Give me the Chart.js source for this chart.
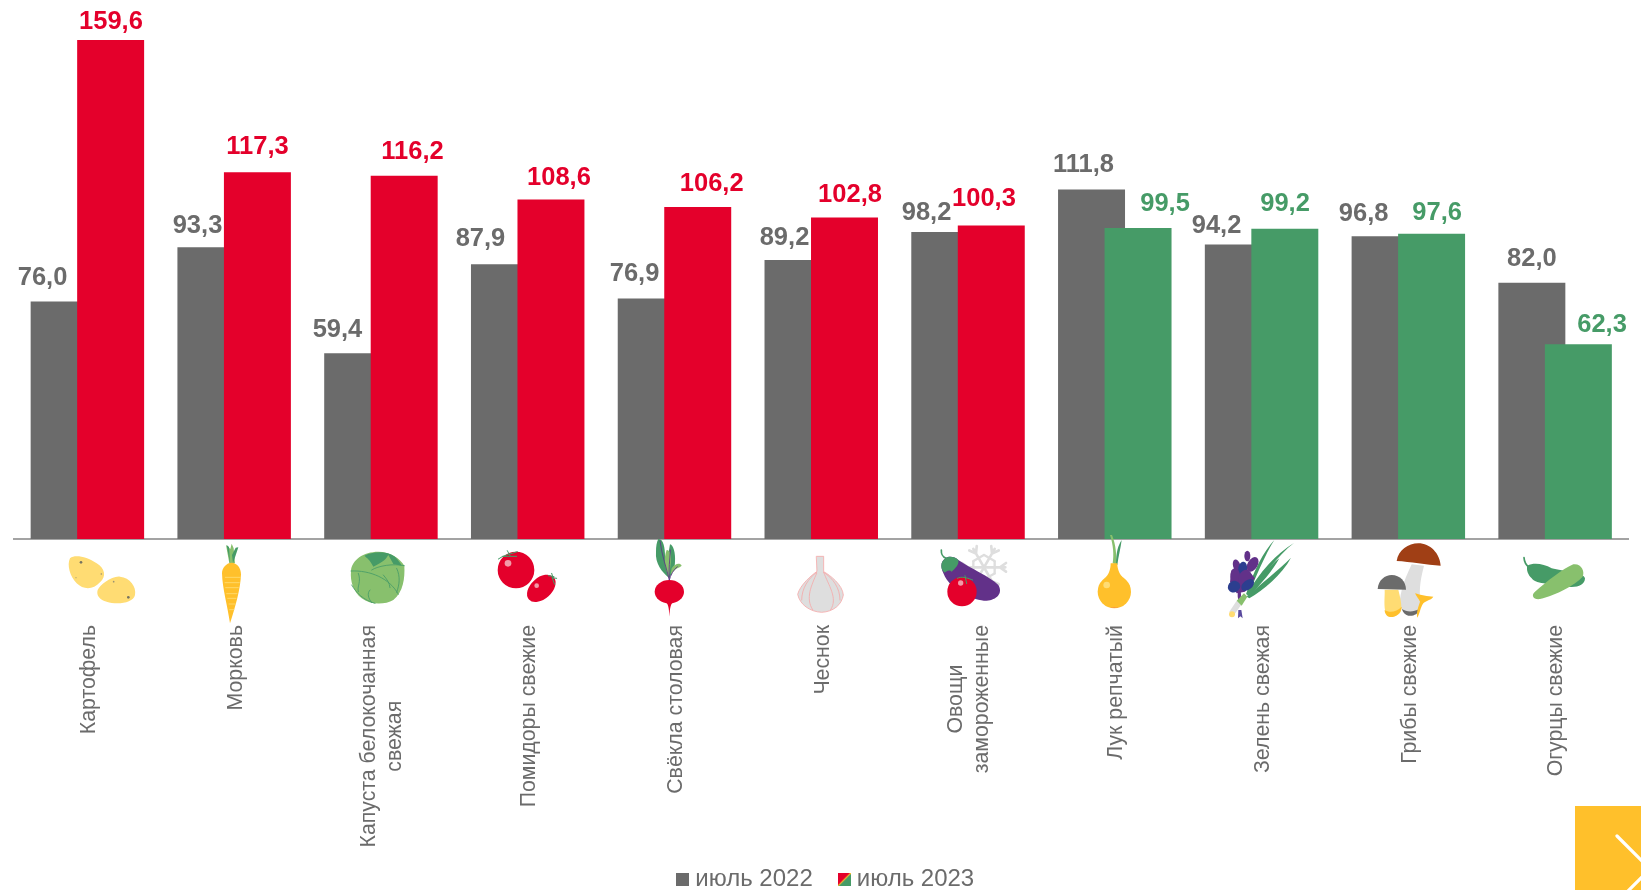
<!DOCTYPE html>
<html lang="ru">
<head>
<meta charset="utf-8">
<title>Цены на овощи</title>
<style>html,body{margin:0;padding:0;background:#fff}canvas{display:block}</style>
<script src="https://cdn.jsdelivr.net/npm/chart.js@4/dist/chart.umd.min.js"></script>
</head>
<body>
<canvas id="c" width="1641" height="890"></canvas>
<script>
const categories = ["Картофель","Морковь",["Капуста белокочанная","свежая"],"Помидоры свежие","Свёкла столовая","Чеснок",["Овощи","замороженные"],"Лук репчатый","Зелень свежая","Грибы свежие","Огурцы свежие"];
const july2022 = [76.0,93.3,59.4,87.9,76.9,89.2,98.2,111.8,94.2,96.8,82.0];
const july2023 = [159.6,117.3,116.2,108.6,106.2,102.8,100.3,99.5,99.2,97.6,62.3];
const seriesNames = ["июль 2022","июль 2023"];

const GREY="#6b6b6b", RED="#e4002b", GREEN="#469b67", LIME="#88c06d", YEL="#ffc02b", PALE="#ffdc73", PURPLE="#623189", BLUE="#2c3e8f", SILVER="#dedede", PINK="#f29aa8";
const colors2023 = july2023.map(v => v >= 100 ? RED : GREEN);
const labelShift2022 = [-21.6,-13.4,-20.2,-24,-16.7,-13.5,-18.2,-8,-21.8,-21.5,0];
const labelShift2023 = [0.3,0.1,8.3,8,14,5.5,-7.3,27,0.2,5.5,23.7];
const labelDrop2022 = [0,2,0,-2,-2,1,4,-1,5,1,-1];
const labelDrop2023 = [0,-2,-1,2,0,0,-3,-1,-2,2,4];
const fmt = v => v.toFixed(1).replace(".",",");
const FONT = '"Liberation Sans", Arial, sans-serif';

// icon drawing helpers (local icon space is 3x finer than the page)
const P=(c,d)=>({c,d});
const S=(c,d,w)=>({c,d,w,s:1});
const circ=(c,x,y,r)=>({c,e:[x,y,r,r,0]});
const ell=(c,x,y,a,b,rot)=>({c,e:[x,y,a,b,rot*Math.PI/180]});
function flake(cx,cy){const o=[];for(let i=0;i<6;i++){const a=i*Math.PI/3;const ca=Math.cos(a),sa=Math.sin(a);
 const pt=(r,t)=>[cx+ca*r-sa*t,cy+sa*r+ca*t];
 const [x1,y1]=pt(64,0),[b1,b2]=pt(48,0),[l1,l2]=pt(66,-13),[r1,r2]=pt(66,13),[h1,h2]=pt(32,-18),[k1,k2]=pt(32,18);
 o.push(S(SILVER,`M${cx} ${cy}L${x1} ${y1}M${b1} ${b2}L${l1} ${l2}M${b1} ${b2}L${r1} ${r2}`,8));
 o.push(S(SILVER,`M${h1} ${h2}L${k1} ${k2}`,7));}return o;}

const icons=[
 {o:[50,535],p:[
  P(PALE,"M60 70C75 58 110 65 140 85C165 100 170 125 150 142C130 165 100 165 80 145C60 125 50 90 60 70Z"),
  P(PALE,"M143 165C150 150 185 122 210 125C240 128 260 155 255 180C250 205 200 210 170 200C150 195 138 182 143 165Z"),
  circ("#77735f",93,82,4),circ("#77735f",235,187,4),circ("#9a9273",154,117,2.5),circ("#b5a76f",78,128,2),circ("#9a9273",191,140,2.5)]},
 {o:[50,535],p:[
  P(LIME,"M538 85L528 30L541 42L545 26L551 40L555 85Z"),
  P(GREEN,"M540 85L530 30L537 36Z"),P(GREEN,"M549 85L565 37L557 38L546 60Z"),
  P(YEL,"M545 83C560 83 573 98 573 118C572 160 555 220 540 265C532 210 517 160 516 115C516 98 530 83 545 83Z"),
  S(PALE,"M526 127H571M525 143H568M527 158H565M530 176H561M533 190H558M537 207H555M539 224H552",2.5)]},
 {o:[50,535],p:[
  P(LIME,"M903 108C905 75 940 50 985 50C1020 50 1050 70 1063 92C1065 130 1060 170 1030 195C1005 210 960 210 935 190C910 170 900 140 903 108Z"),
  P(GREEN,"M943 62C965 50 1010 45 1035 65C1045 75 1052 85 1055 92L1030 87L1015 60C1005 78 990 85 970 95C960 75 950 68 943 62Z"),
  S(GREEN,"M903 108C960 105 1020 130 1045 178M965 105C985 92 1030 85 1063 92M1040 100C1052 125 1048 150 1040 172M925 115C935 140 920 155 925 170M960 165C950 175 955 190 965 203M905 150C920 175 940 195 975 205M1000 120C1012 135 1018 142 1020 158",2.5)]},
 {o:[50,535],p:[
  circ(RED,1398,105,55),circ(PINK,1374,85,10),
  S(GREEN,"M1345 72C1360 60 1380 58 1402 50M1372 47L1380 62M1358 64L1400 64",3),
  ell(RED,1474,160,50,32,-42),circ(PINK,1460,152,7),
  S(GREEN,"M1495 122L1512 125M1505 115L1510 130M1520 130L1506 128M1514 148L1507 130",3)]},
 {o:[620,535],p:[
  P(GREEN,"M115 12C130 10 135 40 135 60C135 85 140 105 148 130C125 110 105 85 108 50C108 35 110 20 115 12Z"),
  P(GREEN,"M150 28C160 30 167 55 165 80C165 100 155 115 148 130C135 100 145 60 150 28Z"),
  P(LIME,"M140 45C152 45 155 65 152 85C150 105 148 115 147 128C135 100 130 70 140 45Z"),
  P(LIME,"M155 100C165 85 180 82 185 92C175 100 165 100 152 118Z"),
  S(PURPLE,"M148 135C140 100 125 60 120 18M148 135C145 100 150 75 151 45M148 135C152 120 160 105 172 95",2.5),
  ell(RED,148,170,44,35,0),P(RED,"M132 198C145 205 147 215 148 245C150 215 152 205 164 198Z")]},
 {o:[620,535],p:[
  P(SILVER,"M590 64L611 64L611 110C630 120 668 150 670 180C665 210 640 230 605 232C570 230 540 210 533 178C540 150 575 120 590 110Z"),
  S("#f5a9a9","M590 64L611 64L611 110C630 120 668 150 670 180C665 210 640 230 605 232C570 230 540 210 533 178C540 150 575 120 590 110ZM590 112C565 130 545 160 545 195M590 115C575 150 555 190 578 224M611 112C625 150 655 190 632 224M611 112C640 130 660 160 660 195",2.5)]},
 {o:[620,535],p:[
  ...flake(1092,97),
  S(GREEN,"M964 45C963 60 968 65 978 70",5),
  P(PURPLE,"M965 85C975 60 1000 62 1015 75C1050 100 1110 125 1135 150C1150 175 1130 195 1100 197C1060 197 1000 170 975 125C968 110 962 100 965 85Z"),
  P(GREEN,"M965 85C975 60 1000 62 1015 75C1018 90 1005 100 995 110C985 100 975 115 972 112C965 105 962 95 965 85Z"),
  circ(RED,1026,170,44),circ(PINK,1022,144,8),
  S(GREEN,"M1012 130C1025 122 1045 130 1058 135M1035 122L1040 146",3)]},
 {o:[1090,535],p:[
  P(LIME,"M68 85C72 60 70 30 60 0L66 0C78 30 80 60 78 88Z"),
  P(GREEN,"M78 88C78 50 85 30 95 15C92 40 85 65 82 90Z"),
  P(YEL,"M62 85L82 85C82 105 90 120 100 128L46 128C55 120 62 105 62 85Z"),
  circ(YEL,73,170,50),circ(PALE,50,150,10),
  P("#f0696b","M57 213C65 219 80 219 90 213C80 221 65 221 57 213Z")]},
 {o:[1090,535],p:[
  P(GREEN,"M468 178C490 110 520 50 553 15C525 60 500 120 476 178Z"),
  P(GREEN,"M470 178C510 110 560 55 612 24C565 60 520 120 480 180Z"),
  P(GREEN,"M470 180C510 130 540 90 568 70C550 105 510 150 478 184Z"),
  P(GREEN,"M470 185C515 145 565 105 603 68C575 120 520 165 478 190Z"),
  ell(PURPLE,472,63,9,16,0),ell(PURPLE,440,92,11,19,-15),ell(PURPLE,488,88,15,24,30),
  P(PURPLE,"M425 105L470 100L495 130L465 170L440 175L420 140Z"),
  ell(BLUE,458,100,13,20,10),ell(PURPLE,436,125,15,25,-5),ell(PURPLE,465,130,20,26,20),
  ell(BLUE,432,155,19,17,-30),ell(BLUE,473,150,22,14,-40),ell(PURPLE,448,180,5,18,0),
  P(SILVER,"M418 230L440 197L455 208L430 243Z"),P(LIME,"M440 197L462 175L472 185L455 212Z"),
  circ(PALE,426,238,9),P("#5a4a9e","M445 225L444 250L451 244L458 250L454 225Z")]},
 {o:[1090,535],p:[
  P(SILVER,"M965 88L1002 92C995 120 985 160 992 200C995 225 975 243 955 240C935 235 925 210 932 180C940 140 955 110 965 88Z"),
  P(GREY,"M936 222C950 232 970 232 988 222C985 238 970 244 955 242C945 240 938 232 936 222Z"),
  P("#a03f15","M920 78C925 45 955 25 985 25C1020 25 1050 55 1052 92C1010 90 960 80 920 78Z"),
  P(PALE,"M884 164L925 164C930 185 938 215 932 230C925 245 895 250 888 235C880 215 885 185 884 164Z"),
  P(YEL,"M884 225C900 235 920 230 935 215C935 235 915 248 900 246C890 245 884 235 884 225Z"),
  P(GREY,"M863 162C865 135 885 120 905 120C930 120 948 140 948 164Z"),
  P(YEL,"M975 175C990 180 1015 185 1030 185C1025 195 1010 195 1000 205C990 220 990 235 982 248C978 235 985 215 990 200C985 190 980 185 975 175Z")]},
 {o:[1090,535],p:[
  S(GREEN,"M1302 68C1303 85 1310 92 1318 98",5),
  P(GREEN,"M1312 92C1330 82 1360 85 1385 100C1420 110 1480 110 1485 130C1485 150 1460 160 1430 155C1390 145 1340 150 1325 130C1315 120 1308 105 1312 92Z"),
  P(LIME,"M1335 170C1370 140 1420 100 1450 88C1475 85 1485 110 1478 125C1455 150 1400 180 1350 192C1330 195 1322 180 1335 170Z")]}
];

function legendSwatch(kind){
 const cv=document.createElement("canvas");cv.width=13;cv.height=13;const g=cv.getContext("2d");
 if(kind===0){g.fillStyle=GREY;g.fillRect(0,0,13,13);}
 else{
  g.fillStyle=RED;g.beginPath();g.moveTo(0,0);g.lineTo(13,0);g.lineTo(0,13);g.fill();
  g.fillStyle=GREEN;g.beginPath();g.moveTo(13,0);g.lineTo(13,13);g.lineTo(0,13);g.fill();
  g.strokeStyle=YEL;g.lineWidth=1.2;g.beginPath();g.moveTo(13,0);g.lineTo(0,13);g.stroke();
 }
 return cv;
}

const decorations={
 id:"decor",
 afterLayout(chart){
  const l=chart.legend; if(!l) return;
  l.top=882-31-l.options.labels.font.size*0.6;
  l.left+=14;
 },
 // the 2023 bars overlap the 2022 ones from the right, and must sit under them
 beforeDatasetDraw(chart,args){ if(args.index===1) return false; },
 afterDatasetDraw(chart,args){ if(args.index===0) chart.getDatasetMeta(1).controller.draw(); },
 afterDatasetsDraw(chart){
  const ctx=chart.ctx, x=chart.scales.x;
  ctx.save();
  // value labels
  ctx.font=`bold 25.5px ${FONT}`;ctx.textAlign="center";ctx.textBaseline="alphabetic";
  const m0=chart.getDatasetMeta(0).data,m1=chart.getDatasetMeta(1).data;
  july2022.forEach((v,i)=>{ctx.fillStyle=GREY;ctx.fillText(fmt(v),m0[i].x+labelShift2022[i],m0[i].y-16+labelDrop2022[i]);});
  july2023.forEach((v,i)=>{ctx.fillStyle=colors2023[i];ctx.fillText(fmt(v),m1[i].x+labelShift2023[i],m1[i].y-(v>150?11.5:16)+labelDrop2023[i]);});
  // category labels, centred line by line and rotated
  ctx.font=`21.3px ${FONT}`;ctx.fillStyle=GREY;
  categories.forEach((c,i)=>{
   const lines=Array.isArray(c)?c:[c];
   const cx=x.getPixelForTick(i)+1.5;
   const w=Math.max(...lines.map(t=>ctx.measureText(t).width));
   lines.forEach((t,j)=>{
    ctx.save();
    ctx.translate(cx+(j-(lines.length-1)/2)*26,625+w/2);
    ctx.rotate(-Math.PI/2);
    ctx.textAlign="center";ctx.textBaseline="middle";
    ctx.fillText(t,0,0);
    ctx.restore();
   });
  });
  // product icons
  icons.forEach(ic=>{
   ctx.save();
   ctx.translate(ic.o[0],ic.o[1]);ctx.scale(1/3,1/3);
   ic.p.forEach(s=>{
    if(s.e){ctx.fillStyle=s.c;ctx.beginPath();ctx.ellipse(s.e[0],s.e[1],s.e[2],s.e[3],s.e[4],0,Math.PI*2);ctx.fill();}
    else if(s.s){ctx.strokeStyle=s.c;ctx.lineWidth=s.w;ctx.lineCap="round";ctx.lineJoin="round";ctx.stroke(new Path2D(s.d));}
    else{ctx.fillStyle=s.c;ctx.fill(new Path2D(s.d));}
   });
   ctx.restore();
  });
  // next-page button
  ctx.fillStyle=YEL;ctx.fillRect(1575,806,66,84);
  ctx.strokeStyle="#fff";ctx.lineWidth=3.2;ctx.lineCap="round";
  ctx.beginPath();ctx.moveTo(1617,836);ctx.lineTo(1650,869);ctx.lineTo(1625,894);ctx.stroke();
  ctx.restore();
 }
};

new Chart(document.getElementById("c"),{
 type:"bar",
 data:{labels:categories,datasets:[
  {label:seriesNames[0],data:july2022,backgroundColor:GREY,categoryPercentage:0.6337,barPercentage:1.44},
  {label:seriesNames[1],data:july2023,backgroundColor:colors2023,categoryPercentage:0.6337,barPercentage:1.44}
 ]},
 plugins:[decorations],
 options:{
  responsive:false,animation:false,
  layout:{padding:{left:14,right:12.5,top:0,bottom:0}},
  scales:{
   x:{grid:{display:false},border:{display:true,color:"#a3a3a3",width:2},ticks:{display:false},
      afterFit(s){s.height=351-((s.chart.legend&&s.chart.legend.height)||0);}},
   y:{display:false,min:0,max:172.4}
  },
  plugins:{
   tooltip:{enabled:false},
   legend:{position:"bottom",labels:{
    color:GREY,font:{family:FONT,size:24},usePointStyle:true,pointStyleWidth:1,padding:31,boxHeight:13,
    generateLabels(){return seriesNames.map((n,i)=>({text:n,pointStyle:legendSwatch(i),fontColor:GREY,lineWidth:0,strokeStyle:"transparent",fillStyle:GREY,datasetIndex:i,hidden:false}));}
   }}
  }
 }
});
</script>
</body>
</html>
